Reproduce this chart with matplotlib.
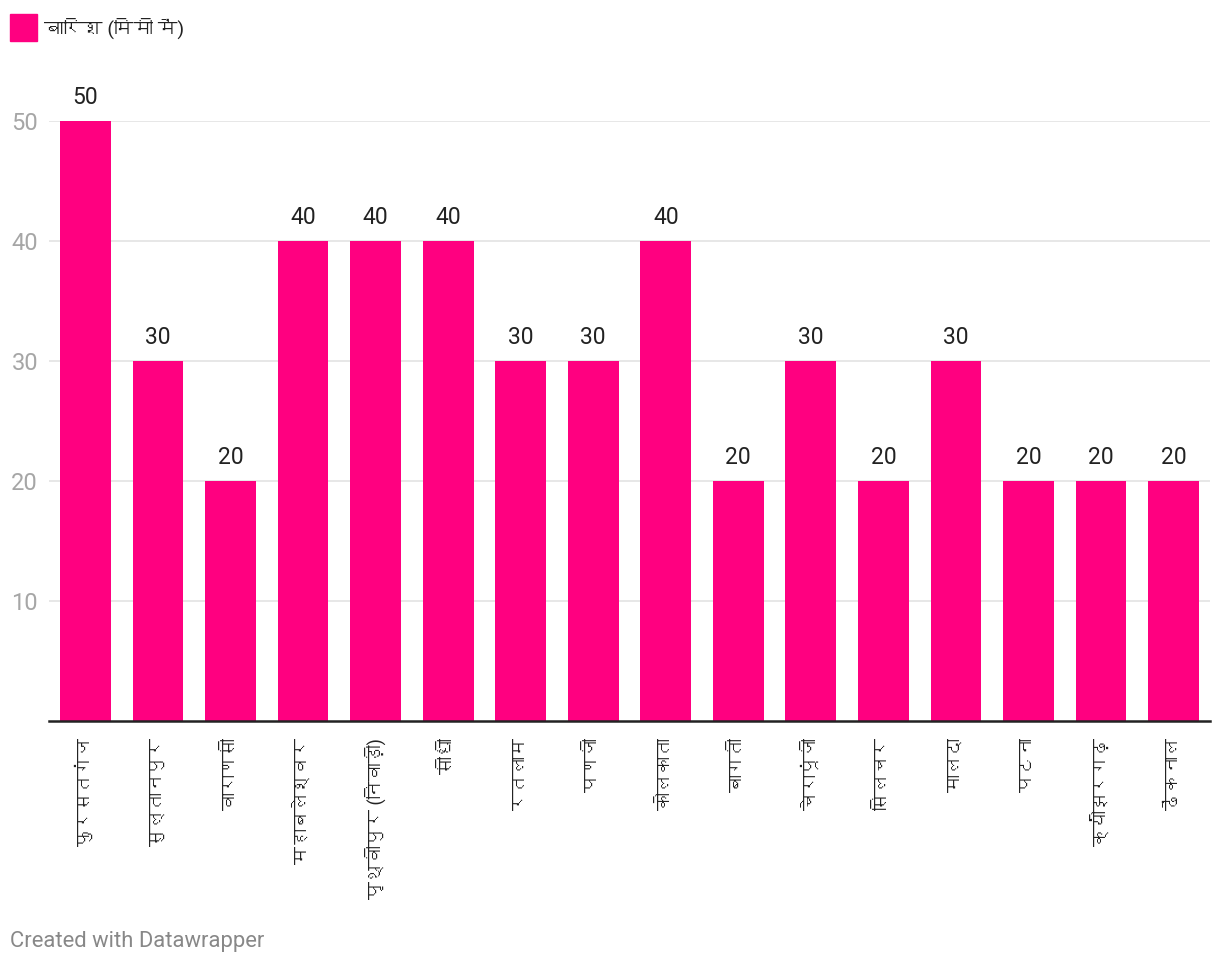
import matplotlib
matplotlib.use('Agg')
import matplotlib.pyplot as plt
from matplotlib import font_manager
from matplotlib.patches import Rectangle

# data
cities = ['फुरसतगंज', 'सुल्तानपुर', 'वाराणसी', 'महाबलेश्वर', 'पृथ्वीपुर (निवाड़ी)', 'सीधी',
          'रतलाम', 'पणजी', 'कोलकाता', 'बागती', 'चेरापूंजी', 'सिलचर', 'मालदा', 'पटना',
          'क्योंझरगढ़', 'ढेंकनाल']
rain = [50, 30, 20, 40, 40, 40, 30, 30, 40, 20, 30, 20, 30, 20, 20, 20]
yticks = [10, 20, 30, 40, 50]
legend_label = 'बारिश (मिमी में)'

# find an installed font that has devanagari glyphs
deva = []
try:
    from fontTools.ttLib import TTFont
    for f in font_manager.fontManager.ttflist:
        try:
            tt = TTFont(f.fname, fontNumber=0, lazy=True)
            if 0x0915 in tt.getBestCmap() and f.name not in deva:
                deva.append(f.name)
        except Exception:
            pass
except Exception:
    pass

fams = ['Roboto'] + deva[:1] + ['DejaVu Sans']
plt.rcParams['font.family'] = fams

pink = '#ff0080'

fig = plt.figure(figsize=(12.2, 9.68), dpi=100)
ax = fig.add_axes([49.2 / 1220, 247 / 968, 1160.6 / 1220, 600 / 968])

x = list(range(len(cities)))
ax.bar(x, rain, width=0.70, color=pink, zorder=2)
for xi, v in zip(x, rain):
    ax.text(xi, v + 1.0, str(v), ha='center', va='bottom', fontsize=16.5, color='#222222', clip_on=False)

ax.set_xlim(-0.5, len(cities) - 0.5)
ax.set_ylim(0, 50)
ax.set_yticks(yticks)
ax.set_yticklabels([str(t) for t in yticks], fontsize=17, color='#a6a6a6')
ax.yaxis.grid(True, color='#e3e3e3', linewidth=1.2, zorder=0)
ax.tick_params(axis='y', length=0, pad=8)

ax.set_xticks(x)
ax.set_xticklabels(cities, rotation=90, ha='center', va='top', fontsize=13, color='#222222')
ax.tick_params(axis='x', length=0, pad=12)

for s in ['top', 'right', 'left']:
    ax.spines[s].set_visible(False)
ax.spines['bottom'].set_color('#222222')
ax.spines['bottom'].set_linewidth(1.8)
ax.spines['bottom'].set_zorder(3)

# legend
fig.patches.append(Rectangle((10 / 1220, 1 - 41 / 968), 27 / 1220, 27 / 968,
                             transform=fig.transFigure, color=pink))
fig.text(44 / 1220, 1 - 28 / 968, legend_label, fontsize=14, color='#222222', va='center', ha='left')

fig.text(10 / 1220, 1 - 942 / 968, 'Created with Datawrapper', fontsize=15.8, color='#888888',
         va='center', ha='left')

fig.savefig('out.png', dpi=100)
